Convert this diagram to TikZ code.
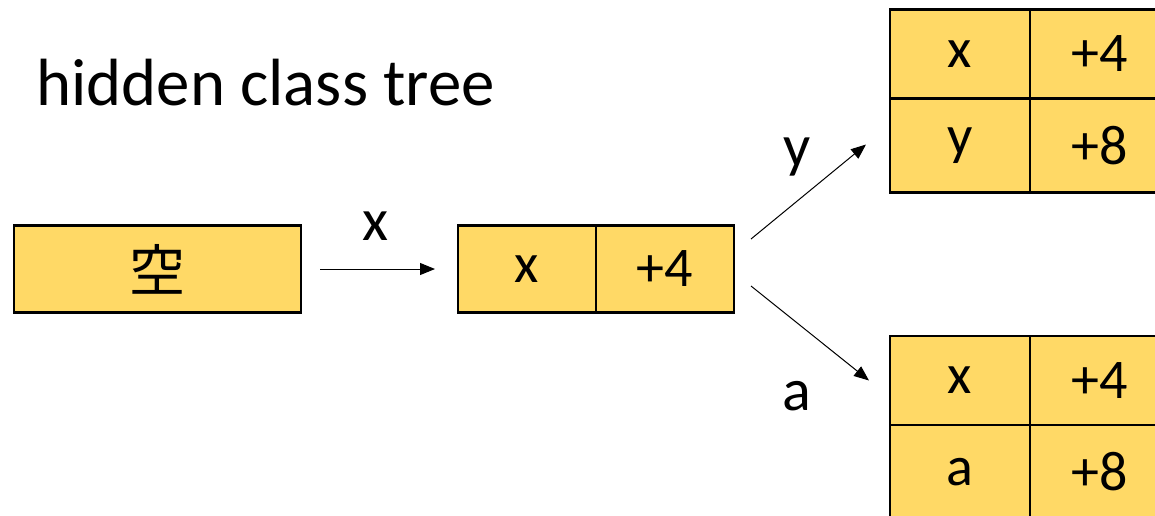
\documentclass[tikz,border=0pt]{standalone}
\usepackage{fontspec}
\setmainfont{Carlito}
\newfontfamily\cjkfont{Noto Sans CJK JP}
\usetikzlibrary{arrows.meta,positioning}
\definecolor{boxgold}{RGB}{255,217,102}
\tikzset{
  cell/.style={draw, fill=boxgold, line width=1.2pt, inner sep=0pt, outer sep=0pt,
    minimum width=70pt, minimum height=44.5pt, font=\fontsize{28}{32}\selectfont},
  lowcell/.style={cell, minimum height=47pt},
  edge/.style={-{Triangle[length=7.5pt,width=6pt]}, line width=0.5pt},
  lbl/.style={anchor=base, inner sep=0pt, font=\fontsize{30}{34}\selectfont}
}
\begin{document}
\begin{tikzpicture}[x=0.5pt, y=-0.5pt]
    \useasboundingbox (0,0) rectangle (1155,515);
    % Titel
    \node[anchor=base west, inner sep=0pt, font=\fontsize{33.4}{38}\selectfont] (title) at (36,105) {hidden class tree};
    % leere Klasse
    \node[cell, minimum width=143.5pt, minimum height=43.5pt] (empty) at (157.5,269) {\cjkfont 空};
    % Klasse mit x
    \node[cell, minimum width=69pt, minimum height=43.5pt] (midx) at (527,269) {x};
    \node[cell, minimum width=69pt, minimum height=43.5pt, right=0pt of midx] (midoff) {+4};
    % Klasse mit x, y
    \node[cell] (yx) at (960,54) {x};
    \node[cell, right=0pt of yx] (yxoff) {+4};
    \node[lowcell, below=0pt of yx] (yy) {y};
    \node[lowcell, right=0pt of yy] (yyoff) {+8};
    % Klasse mit x, a
    \node[cell] (ax) at (960,380.5) {x};
    \node[cell, right=0pt of ax] (axoff) {+4};
    \node[lowcell, below=0pt of ax] (aa) {a};
    \node[lowcell, right=0pt of aa] (aaoff) {+8};
    % Übergänge
    \draw[edge, shorten <=9.5pt, shorten >=11.5pt] (empty.east) -- (midx.west);
    \draw[edge] ([xshift=8.5pt, yshift=15pt]midoff.east) -- ([xshift=-12pt, yshift=0.5pt]yy.west);
    \draw[edge] ([xshift=8.5pt, yshift=-8.5pt]midoff.east) -- ([xshift=-10.5pt]ax.west);
    \node[lbl] (lblx) at (375,240) {x};
    \node[lbl] (lbly) at (797,166) {y};
    \node[lbl] (lbla) at (797,410) {a};
\end{tikzpicture}
\end{document}
